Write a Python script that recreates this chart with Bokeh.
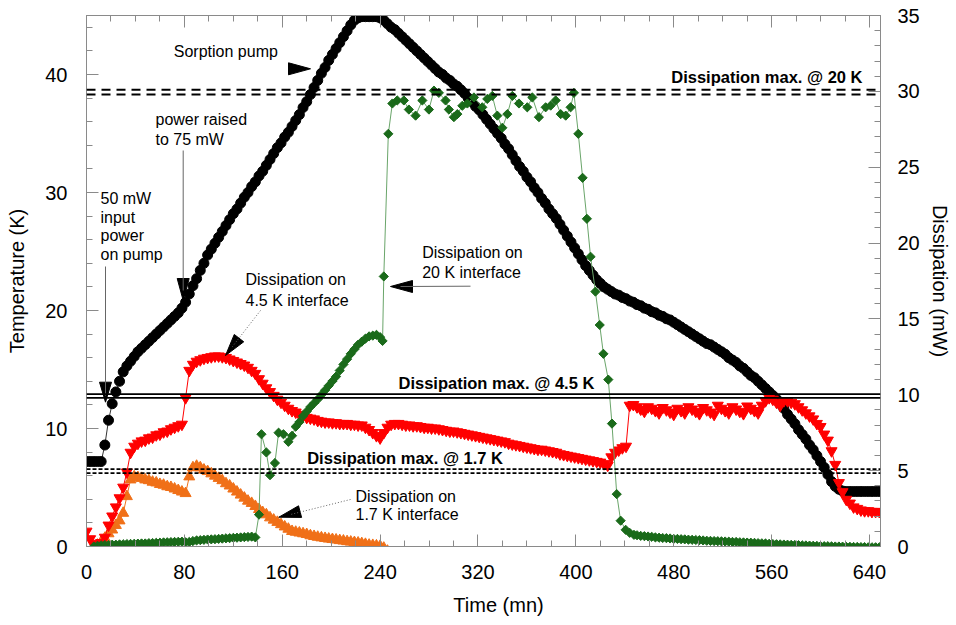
import numpy as np
from bokeh.plotting import figure
from bokeh.models import Range1d, LinearAxis, SingleIntervalTicker, Span, Label
from bokeh.embed import file_html
from bokeh.resources import INLINE

FONT = "Liberation Sans"
AX = "#8a8a8a"

# ---------------- data ----------------
time_grid = list(range(0, 649, 3))  # minutes

# Sorption pump temperature (K)
pump_temp_K = [
    7.2, 7.2, 7.2, 7.2, 7.2, 8.6, 10.7, 12.1, 13.1, 14.0,
    14.8, 15.3, 15.7, 16.1, 16.5, 16.8, 17.1, 17.4, 17.7, 18.0,
    18.3, 18.6, 18.9, 19.2, 19.5, 19.8, 20.2, 20.7, 21.4, 22.1,
    22.7, 23.4, 24.0, 24.7, 25.2, 25.7, 26.2, 26.7, 27.2, 27.7,
    28.2, 28.6, 29.1, 29.6, 30.0, 30.5, 30.9, 31.4, 31.8, 32.3,
    32.8, 33.3, 33.8, 34.2, 34.7, 35.1, 35.6, 36.1, 36.6, 37.2,
    37.7, 38.3, 38.9, 39.5, 40.1, 40.6, 41.2, 41.7, 42.2, 42.7,
    43.2, 43.7, 44.2, 44.6, 44.8, 44.9, 44.9, 44.9, 44.9, 44.9,
    44.8, 44.6, 44.3, 44.0, 43.8, 43.5, 43.2, 42.9, 42.6, 42.3,
    42.0, 41.7, 41.4, 41.1, 40.8, 40.5, 40.2, 40.0, 39.7, 39.5,
    39.2, 39.0, 38.7, 38.4, 38.0, 37.7, 37.3, 37.0, 36.6, 36.2,
    35.8, 35.4, 35.0, 34.6, 34.1, 33.7, 33.2, 32.7, 32.2, 31.8,
    31.3, 30.9, 30.4, 30.0, 29.5, 29.1, 28.6, 28.2, 27.8, 27.3,
    26.8, 26.3, 25.8, 25.3, 24.8, 24.3, 23.8, 23.4, 23.0, 22.6,
    22.3, 22.0, 21.8, 21.6, 21.4, 21.3, 21.1, 21.0, 20.8, 20.7,
    20.5, 20.4, 20.2, 20.1, 19.9, 19.8, 19.6, 19.5, 19.3, 19.2,
    19.0, 18.8, 18.6, 18.4, 18.2, 18.0, 17.8, 17.6, 17.4, 17.2,
    17.1, 16.9, 16.7, 16.5, 16.3, 16.0, 15.8, 15.6, 15.3, 15.1,
    14.8, 14.5, 14.3, 14.0, 13.7, 13.4, 13.1, 12.8, 12.5, 12.1,
    11.7, 11.2, 10.8, 10.4, 9.9, 9.5, 9.1, 8.6, 8.2, 7.7,
    7.2, 6.7, 6.1, 5.5, 5.1, 4.85, 4.7, 4.66, 4.66, 4.66,
    4.66, 4.66, 4.66, 4.66, 4.66, 4.66, 4.66,
]

# Dissipation on 4.5 K interface (mW)
diss_4K5_mW = [
    1.0, 0.5, 0.2, 0.1, 0.25, 0.6, 1.4, 2.0, 2.6, 3.2,
    3.9, 4.9, 6.2, 6.6, 6.8, 6.95, 7.0, 7.15, 7.2, 7.35,
    7.4, 7.55, 7.6, 7.75, 7.85, 7.95, 8.05, 9.8, 11.6, 12.0,
    12.2, 12.3, 12.4, 12.45, 12.5, 12.55, 12.55, 12.5, 12.45, 12.35,
    12.25, 12.15, 12.05, 11.95, 11.8, 11.6, 11.4, 11.05, 10.75, 10.45,
    10.2, 9.95, 9.7, 9.5, 9.3, 9.1, 8.95, 8.85, 8.7, 8.6,
    8.5, 8.45, 8.4, 8.3, 8.25, 8.2, 8.2, 8.15, 8.15, 8.1,
    8.1, 8.1, 8.05, 8.05, 8.0, 8.0, 7.85, 7.7, 7.5, 7.3,
    7.15, 7.5, 7.85, 8.05, 8.1, 8.1, 8.05, 8.0, 8.0, 7.95,
    7.95, 7.9, 7.85, 7.85, 7.8, 7.8, 7.75, 7.7, 7.65, 7.6,
    7.6, 7.55, 7.5, 7.45, 7.4, 7.35, 7.3, 7.25, 7.2, 7.15,
    7.1, 7.05, 7.0, 6.95, 6.9, 6.8, 6.75, 6.7, 6.65, 6.6,
    6.55, 6.5, 6.45, 6.4, 6.4, 6.35, 6.3, 6.25, 6.2, 6.1,
    6.05, 6.0, 5.95, 5.9, 5.85, 5.8, 5.75, 5.7, 5.65, 5.6,
    5.55, 5.45, 5.35, 5.9, 6.2, 6.35, 6.5, 6.6, 9.3, 9.35,
    9.2, 9.05, 8.9, 9.2, 9.1, 8.95, 8.8, 9.15, 9.0, 8.85,
    8.7, 9.1, 8.95, 8.8, 9.2, 9.05, 8.9, 8.75, 9.15, 9.0,
    8.85, 8.7, 9.3, 9.1, 8.95, 8.8, 9.2, 9.05, 8.9, 8.75,
    9.25, 9.1, 8.95, 8.8, 9.3, 9.6, 9.8, 9.7, 9.5, 9.3,
    9.6, 9.6, 9.5, 9.4, 9.2, 9.0, 8.8, 8.6, 8.4, 8.1,
    7.9, 7.4, 7.0, 6.3, 5.4, 4.2, 3.6, 3.1, 2.85, 2.6,
    2.5, 2.4, 2.35, 2.35, 2.3, 2.3, 2.3,
]

# Dissipation on 1.7 K interface (mW)
time_1K7 = list(range(6, 247, 3))
diss_1K7_mW = [
    -0.1, 0.1, 0.3, 0.55, 0.85, 1.1, 1.4, 1.7, 2.2, 3.3,
    4.4, 4.6, 4.55, 4.5, 4.4, 4.35, 4.25, 4.2, 4.1, 4.05,
    3.95, 3.9, 3.8, 3.7, 3.6, 3.5, 4.6, 5.2, 5.3, 5.2,
    5.05, 4.95, 4.8, 4.65, 4.5, 4.35, 4.15, 4.0, 3.8, 3.6,
    3.4, 3.2, 3.0, 2.85, 2.65, 2.45, 2.25, 2.1, 1.9, 1.75,
    1.6, 1.45, 1.3, 1.15, 1.0, 0.95, 0.9, 0.85, 0.8, 0.72,
    0.67, 0.62, 0.58, 0.54, 0.5, 0.47, 0.44, 0.4, 0.37, 0.33,
    0.3, 0.27, 0.24, 0.2, 0.15, 0.1, 0.08, 0.05, 0.02, -0.1,
    -0.3,
]

# Dissipation on 20 K interface (mW), in pieces
time_20K_start = list(range(6, 139, 3))
diss_20K_start = [
    0.0, 0.05, 0.08, 0.1, 0.1, 0.12, 0.12, 0.14, 0.15, 0.16,
    0.17, 0.18, 0.19, 0.2, 0.2, 0.22, 0.23, 0.24, 0.25, 0.27,
    0.28, 0.29, 0.3, 0.31, 0.32, 0.28, 0.3, 0.36, 0.4, 0.42,
    0.44, 0.46, 0.47, 0.48, 0.5, 0.52, 0.54, 0.55, 0.57, 0.58,
    0.6, 0.62, 0.63, 0.65, 0.6,
]
time_20K_ramp = [141, 143, 147, 150, 154, 157, 161, 165, 168, 171,
                 174, 177, 180, 183, 186, 189, 192, 195, 198, 201,
                 204, 207, 210, 213, 216, 219, 222, 225, 228, 231,
                 234, 237, 240, 242]
diss_20K_ramp = [2.1, 7.4, 6.2, 4.7, 5.5, 7.5, 7.4, 6.9, 7.3, 7.9,
                 8.2, 8.6, 8.9, 9.2, 9.45, 9.7, 10.0, 10.3, 10.6, 10.9,
                 11.2, 11.6, 12.0, 12.35, 12.7, 13.0, 13.3, 13.5, 13.7, 13.85,
                 13.9, 13.95, 13.8, 13.55]
time_20K_high = [243, 246.7, 250, 254, 259.4, 263.5, 269, 274.5, 279.9, 284,
                 288, 293.5, 296.2, 300.3, 303.1, 307.2, 311.3, 316.7, 323.5, 327.6,
                 331.7, 335.8, 339.9, 344, 348.1, 353.5, 360.3, 364.4, 369.8, 375.3,
                 379.4, 383.5, 387.6, 391.7, 395.7, 398.4]
diss_20K_high = [17.8, 27.2, 29.2, 29.4, 29.4, 28.8, 28.4, 29.4, 28.8, 30.05,
                 29.9, 29.4, 28.8, 28.3, 28.5, 29.05, 29.2, 29.6, 28.95, 29.5,
                 29.7, 28.4, 27.6, 28.5, 29.7, 29.2, 28.95, 29.6, 28.3, 28.95,
                 29.06, 29.4, 28.5, 28.4, 28.95, 29.9]
time_20K_drop = [402, 405.5, 409, 412, 416, 419.5, 422.5, 426.5, 429.5, 433.4,
                 436.6, 440.7, 444, 447.5]
diss_20K_drop = [27.2, 24.3, 21.6, 19.1, 16.8, 14.6, 12.7, 11.0, 8.1, 3.45,
                 1.7, 1.1, 0.9, 0.77]
time_20K_end = list(range(450, 649, 3))
diss_20K_end = [
    0.74, 0.7, 0.68, 0.66, 0.64, 0.6, 0.58, 0.56, 0.55, 0.53,
    0.5, 0.5, 0.48, 0.47, 0.45, 0.44, 0.43, 0.42, 0.4, 0.38,
    0.37, 0.36, 0.35, 0.34, 0.33, 0.32, 0.3, 0.3, 0.28, 0.27,
    0.26, 0.25, 0.24, 0.22, 0.21, 0.2, 0.18, 0.16, 0.15, 0.14,
    0.13, 0.12, 0.11, 0.1, 0.09, 0.08, 0.07, 0.06, 0.05, 0.04,
    0.03, 0.02, 0.02, 0.01, 0.0, 0.0, -0.01, -0.02, -0.02, -0.03,
    -0.03, -0.04, -0.04, -0.05, -0.05, -0.05, -0.05,
]
time_20K = time_20K_start + time_20K_ramp + time_20K_high + time_20K_drop + time_20K_end
diss_20K_mW = diss_20K_start + diss_20K_ramp + diss_20K_high + diss_20K_drop + diss_20K_end

# Maximum allowed dissipation (mW), drawn as double lines
limit_20K_mW = [30.1, 29.8]
limit_4K5_mW = [10.05, 9.8]
limit_1K7_mW = [5.1, 4.83]

# ---------------- figure ----------------
X_MAX, T_MAX, D_MAX = 649, 45, 35
FL, FR, FT, FB = 86, 880, 15, 546  # frame edges in the page (px)

p = figure(width=956, height=625, output_backend="svg", toolbar_location=None,
           x_range=Range1d(0, X_MAX), y_range=Range1d(0, T_MAX),
           x_axis_location=None, y_axis_location=None,
           min_border_left=FL, min_border_right=956 - FR,
           min_border_top=FT, min_border_bottom=625 - FB)
p.extra_y_ranges = {"mw": Range1d(0, D_MAX)}
p.grid.grid_line_color = None
p.outline_line_color = AX
p.background_fill_color = "white"
p.border_fill_color = "white"


def style_axis(ax, interval, minor):
    ax.ticker = SingleIntervalTicker(interval=interval, num_minor_ticks=minor)
    ax.axis_line_color = AX
    ax.major_tick_line_color = AX
    ax.minor_tick_line_color = AX
    ax.major_tick_in = 12
    ax.major_tick_out = 0
    ax.minor_tick_in = 6
    ax.minor_tick_out = 0
    ax.major_label_text_font = FONT
    ax.major_label_text_font_size = "20px"
    ax.major_label_text_color = "black"
    ax.axis_label_text_font = FONT
    ax.axis_label_text_font_size = "20px"
    ax.axis_label_text_font_style = "normal"
    ax.axis_label_text_color = "black"


left = LinearAxis(axis_label="Temperature (K)")
style_axis(left, 10, 5)
left.major_label_standoff = 19
left.axis_label_standoff = 14
p.add_layout(left, "left")

right = LinearAxis(y_range_name="mw", axis_label="Dissipation (mW)")
style_axis(right, 5, 5)
right.major_label_standoff = 17
right.axis_label_standoff = 6
p.add_layout(right, "right")

bottom = LinearAxis(axis_label="\u2003\u2002Time (mn)")
style_axis(bottom, 80, 4)
bottom.major_label_standoff = 18
bottom.axis_label_standoff = 12
p.add_layout(bottom, "below")

top = LinearAxis()
style_axis(top, 80, 4)
top.major_label_text_font_size = "1px"
top.major_label_text_color = None
top.major_label_standoff = 0
p.add_layout(top, "above")

# limit lines
for v in limit_20K_mW:
    p.add_layout(Span(location=v, dimension="width", y_range_name="mw",
                      line_color="black", line_width=2, line_dash="9 6"))
for v in limit_4K5_mW:
    p.add_layout(Span(location=v, dimension="width", y_range_name="mw",
                      line_color="black", line_width=1.8))
for v in limit_1K7_mW:
    p.add_layout(Span(location=v, dimension="width", y_range_name="mw",
                      line_color="black", line_width=1.8, line_dash="4 2"))

# series
ORANGE = "#f07018"
RED = "#ff0000"
GREEN = "#1a6a1a"

p.line(time_grid, pump_temp_K, line_color="#333333", line_width=1)
p.scatter(time_grid, pump_temp_K, marker="circle", size=10, color="black")

p.line(time_1K7, diss_1K7_mW, y_range_name="mw", line_color=ORANGE, line_width=1)
p.scatter(time_1K7, diss_1K7_mW, y_range_name="mw", marker="triangle", size=11, color=ORANGE)

p.line(time_grid, diss_4K5_mW, y_range_name="mw", line_color=RED, line_width=1)
p.scatter(time_grid, diss_4K5_mW, y_range_name="mw", marker="inverted_triangle", size=11, color=RED)

p.line(time_20K, diss_20K_mW, y_range_name="mw", line_color="#6aa56a", line_width=1)
p.scatter(time_20K, diss_20K_mW, y_range_name="mw", marker="square", angle=np.pi / 4,
          size=6.5, color=GREEN)

# ---------------- annotations (positions measured in page pixels) ----------------
def tx(px):
    return (px - FL) / (FR - FL) * X_MAX


def ky(py):
    return (FB - py) / (FB - FT) * T_MAX


def head(tip, direction, length=22, width=12):
    dx, dy = direction
    n = (dx * dx + dy * dy) ** 0.5
    dx, dy = dx / n, dy / n
    bx, by = tip[0] - length * dx, tip[1] - length * dy
    px_, py_ = -dy, dx
    pts = [tip, (bx + width / 2 * px_, by + width / 2 * py_), (bx - width / 2 * px_, by - width / 2 * py_)]
    return [tx(a) for a, b in pts], [ky(b) for a, b in pts]


heads = [
    head((310, 68.3), (1, 0)),
    head((182.7, 300), (0, 1)),
    head((105, 401.7), (0, 1), length=20),
    head((225, 355), (-35, 45)),
    head((390, 286), (-1, 0)),
    head((278.3, 516.7), (-21.7, 5.7)),
]
p.patches([h[0] for h in heads], [h[1] for h in heads], fill_color="black", line_color="black")

shafts = [
    ((182.7, 150), (182.7, 290), None),
    ((105, 266), (105, 395), None),
    ((260, 310), (232, 346), "1 2"),
    ((470, 285.7), (400, 286), None),
    ((350, 499), (290, 514), "1 2"),
]
for a, b, dash in shafts:
    kw = {"line_dash": dash} if dash else {}
    p.line([tx(a[0]), tx(b[0])], [ky(a[1]), ky(b[1])], line_color="#666666", line_width=1, **kw)

SHIFT = 6  # Bokeh draws the alphabetic baseline a little lower than asked
texts = [
    ("Sorption pump", 173.3, 57, "left", "normal"),
    ("power raised", 155, 124.5, "left", "normal"),
    ("to 75 mW", 155, 144.5, "left", "normal"),
    ("50 mW", 100, 204, "left", "normal"),
    ("input", 100, 222.7, "left", "normal"),
    ("power", 100, 241.4, "left", "normal"),
    ("on pump", 100, 260.1, "left", "normal"),
    ("Dissipation on", 245, 285, "left", "normal"),
    ("4.5 K interface", 245, 305.5, "left", "normal"),
    ("Dissipation on", 421.7, 258.2, "left", "normal"),
    ("20 K interface", 421.7, 278.2, "left", "normal"),
    ("Dissipation on", 355, 501.5, "left", "normal"),
    ("1.7 K interface", 355, 519.8, "left", "normal"),
    ("Dissipation max. @ 20 K", 862, 82, "right", "bold"),
    ("Dissipation max. @ 4.5 K", 398, 388.5, "left", "bold"),
    ("Dissipation max. @ 1.7 K", 306.7, 463.5, "left", "bold"),
]
for txt, x, y, align, style in texts:
    p.add_layout(Label(x=tx(x), y=ky(y - SHIFT), text=txt, text_align=align,
                       text_baseline="alphabetic", text_font=FONT,
                       text_font_size="16.5px" if style == "bold" else "16px",
                       text_font_style=style, text_color="black"))

open("out.html", "w").write(file_html(p, INLINE))
